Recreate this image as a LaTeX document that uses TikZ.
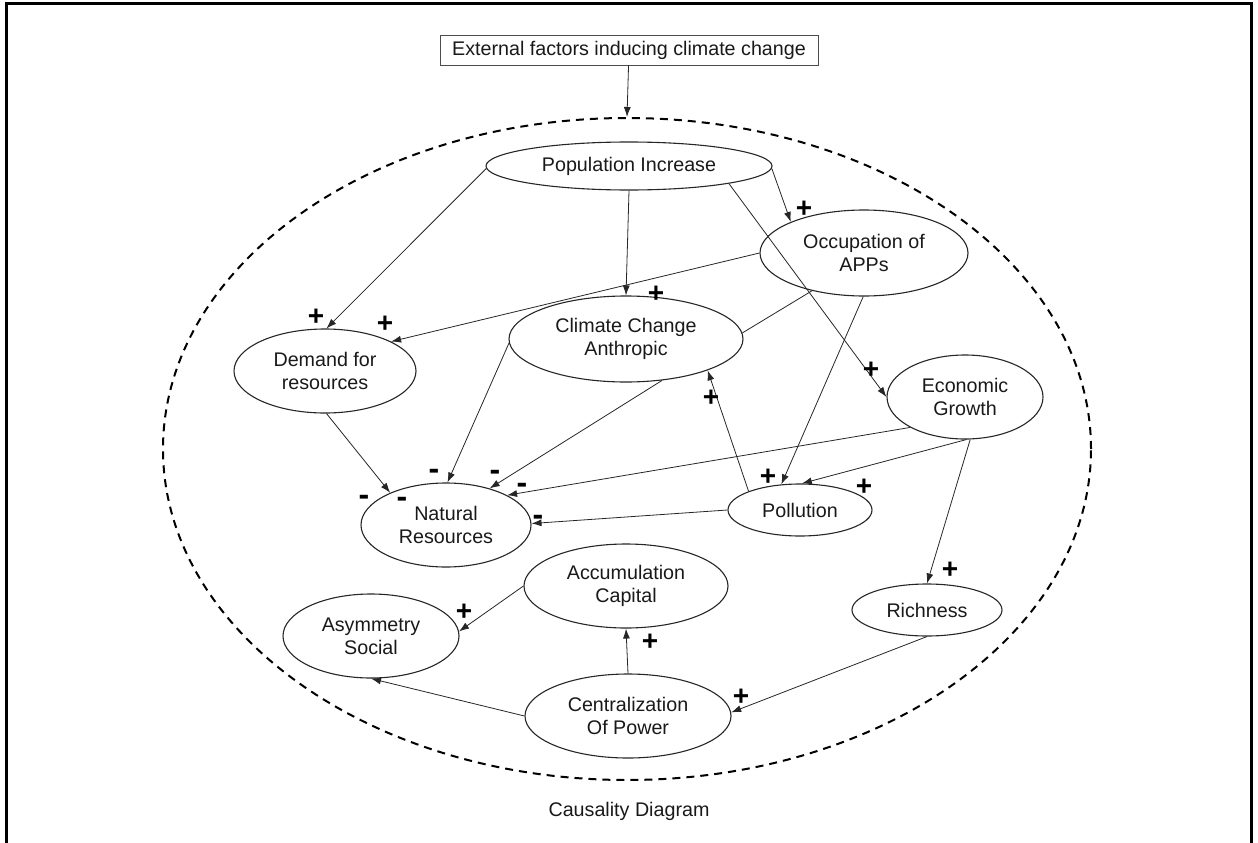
\documentclass[tikz,border=0pt]{standalone}
\usepackage{fontspec}
\setmainfont{Liberation Sans}
\usetikzlibrary{shapes.geometric,arrows.meta}
\begin{document}
\begin{tikzpicture}[x=1pt,y=-1pt,
  lbl/.style={font=\fontsize{19.7}{23}\selectfont, align=center, text=black!90},
  var/.style={lbl, ellipse, draw=black!85, line width=1.1pt, inner sep=0pt},
  arr/.style={-{Latex[length=10pt,width=7pt]}, line width=0.8pt, draw=black!85},
  ln/.style={line width=0.8pt, draw=black!85},
  pl/.style={font=\fontsize{28}{28}\bfseries\selectfont, inner sep=0pt},
  mi/.style={font=\fontsize{32}{32}\bfseries\selectfont, inner sep=0pt},
  ]
\useasboundingbox (0,0) rectangle (1258,843);
\draw[line width=3pt] (6.5,845) -- (6.5,3.5) -- (1251.5,3.5) -- (1251.5,845);

\node[ellipse, draw=black, line width=2pt, dash pattern=on 8pt off 6pt,
      minimum width=928pt, minimum height=662pt, inner sep=0pt] (outer) at (627,449) {};

\node[lbl, draw=black!70, line width=0.8pt, minimum width=378pt, minimum height=30pt, inner sep=0pt] (ext) at (629,50) {External factors inducing climate change};

\node[var, minimum width=286pt, minimum height=48pt] (pop) at (629,166) {Population Increase};
\node[var, minimum width=208pt, minimum height=86pt] (occ) at (864,253) {Occupation of\\APPs};
\node[var, minimum width=234pt, minimum height=86pt] (cc) at (626,339) {Climate Change\\Anthropic};
\node[var, minimum width=182pt, minimum height=84pt] (dem) at (325,371) {Demand for\\resources};
\node[var, minimum width=156pt, minimum height=84pt] (eco) at (965,397) {Economic\\Growth};
\node[var, minimum width=144pt, minimum height=52pt] (pol) at (800,510) {Pollution};
\node[var, minimum width=170pt, minimum height=84pt] (nat) at (446,525) {Natural\\Resources};
\node[var, minimum width=204pt, minimum height=84pt] (acc) at (626,586) {Accumulation\\Capital};
\node[var, minimum width=176pt, minimum height=84pt] (asy) at (371,636) {Asymmetry\\Social};
\node[var, minimum width=206pt, minimum height=84pt] (cen) at (628,716) {Centralization\\Of Power};
\node[var, minimum width=150pt, minimum height=52pt] (ric) at (927,610) {Richness};

\node[lbl] (cap) at (629,811) {Causality Diagram};

\draw[arr] (ext) -- (outer.north);
\draw[arr] (pop.181) -- (dem.88);
\draw[arr] (pop.270) -- (cc.90);
\draw[arr] (pop.359) -- (occ.157);
\draw[arr] (pop.350) -- (eco.180);
\draw[arr] (occ.180) -- (dem.24);
\draw[ln] (occ.216) -- (cc.3);
\draw[arr] (occ.269) -- (pol.126);
\draw[arr] (cc.182) -- (nat.88);
\draw[arr] (cc.311) -- (nat.40);
\draw[arr] (eco.209) -- (nat.26);
\draw[arr] (eco.272) -- (pol.86);
\draw[arr] (eco.277) -- (ric.90);
\draw[arr] (pol.160) -- (cc.339);
\draw[arr] (pol.180) -- (nat.1);
\draw[arr] (dem.272) -- (nat.150);
\draw[arr] (acc.180) -- (asy.3);
\draw[arr] (cen.90) -- (acc.270);
\draw[arr] (cen.180) -- (asy.270);
\draw[arr] (ric.270) -- (cen.2);

\node[pl] (s1) at (316,317) {+};
\node[pl] (s2) at (385,324) {+};
\node[pl] (s3) at (656,294) {+};
\node[pl] (s4) at (804,209) {+};
\node[pl] (s5) at (871,370) {+};
\node[pl] (s6) at (711,398) {+};
\node[pl] (s7) at (768,477) {+};
\node[pl] (s8) at (864,487) {+};
\node[pl] (s9) at (950,570) {+};
\node[pl] (s10) at (464,612) {+};
\node[pl] (s11) at (650,642) {+};
\node[pl] (s12) at (741,697) {+};

\node[mi] (m1) at (434,474) {-};
\node[mi] (m2) at (495,475) {-};
\node[mi] (m3) at (522,488) {-};
\node[mi] (m4) at (538,520) {-};
\node[mi] (m5) at (364,500) {-};
\node[mi] (m6) at (402,502) {-};
\end{tikzpicture}
\end{document}
